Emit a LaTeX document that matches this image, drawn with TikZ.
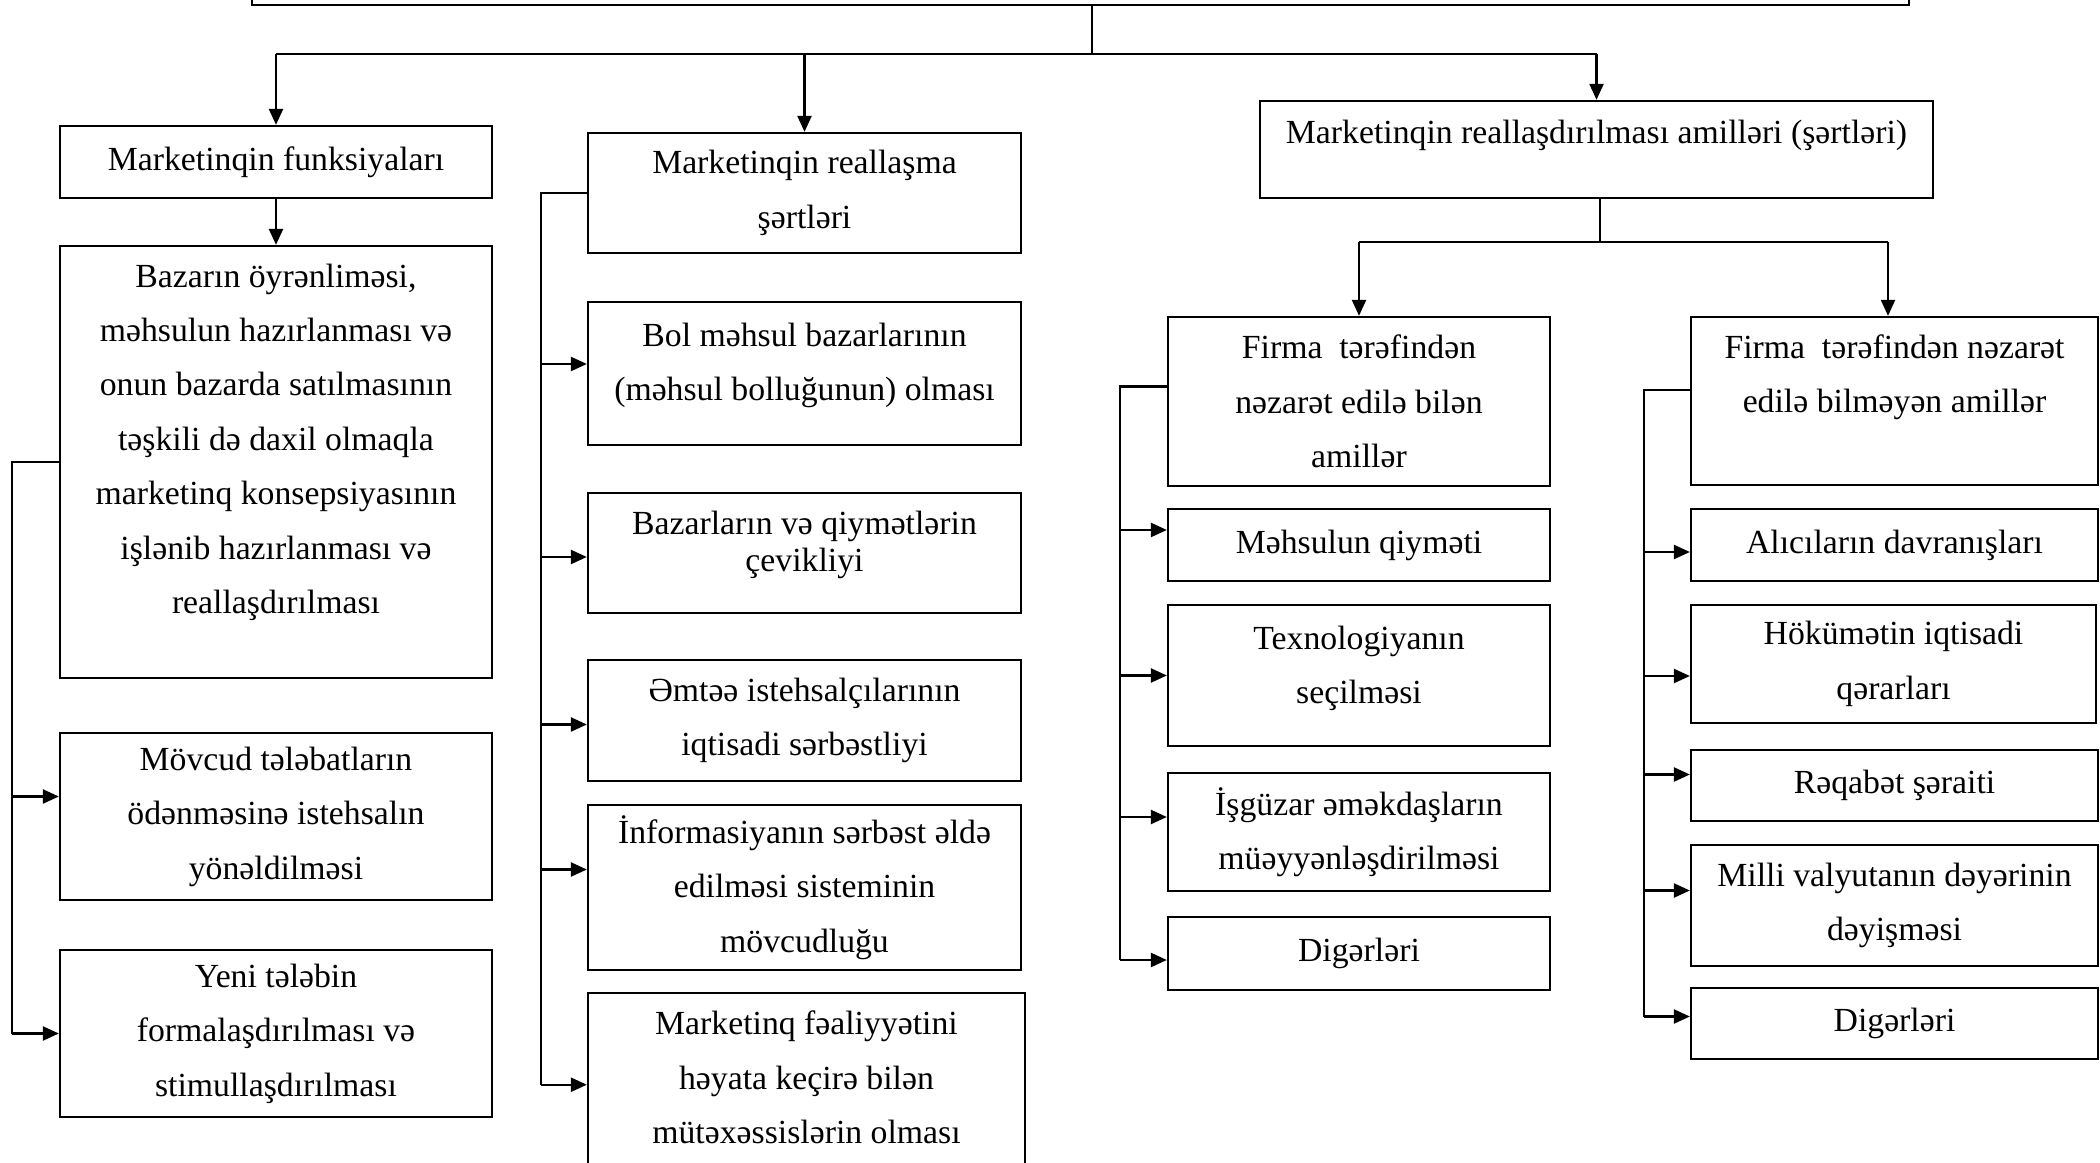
\documentclass[tikz,border=0pt]{standalone}
\usepackage{fontspec}
\setmainfont{Liberation Serif}
\usetikzlibrary{arrows.meta}
\tikzset{
  mkbox/.style={draw=black, line width=0.65pt, align=center, inner sep=0pt,
                font=\fontsize{9.6}{15.5}\selectfont},
  mktight/.style={font=\fontsize{9.6}{10.5}\selectfont},
  mkline/.style={draw=black, line width=0.65pt},
  mkarr/.style={mkline, -{Triangle[length=1.6mm, width=1.4mm]}},
}

\begin{document}
\begin{tikzpicture}[x=0.1mm, y=-0.1mm]
  \useasboundingbox (0,0) rectangle (2100,1163);
  \clip (0,0) rectangle (2100,1163);
  \coordinate (j0) at (1092,54);
  \coordinate (j1) at (1600,242);
  \coordinate (bL) at (12,0);
  \coordinate (bM) at (541,0);
  \coordinate (bR) at (1120,0);
  \coordinate (bF) at (1644,0);

  \node[mkbox, minimum width=165.7mm, minimum height=9mm] (ttl) at (1080.5,-40) {};

  \node[mkbox, minimum width=43.2mm, minimum height=7.2mm] (fnk) at (276,162) {Marketinqin funksiyaları};
  \node[mkbox, minimum width=43.2mm, minimum height=43.2mm] (baz) at (276,462)
    {Bazarın öyrənliməsi,\\ məhsulun hazırlanması və\\ onun bazarda satılmasının\\ təşkili də daxil olmaqla\\
     marketinq konsepsiyasının\\ işlənib hazırlanması və\\ reallaşdırılması\\[-0.8mm] \mbox{}};
  \node[mkbox, minimum width=43.2mm, minimum height=16.7mm] (mov) at (276,816.5)
    {Mövcud tələbatların\\ ödənməsinə istehsalın\\ yönəldilməsi};
  \node[mkbox, minimum width=43.2mm, minimum height=16.7mm] (yen) at (276,1033.5)
    {Yeni tələbin\\ formalaşdırılması və\\ stimullaşdırılması};

  \node[mkbox, minimum width=43.3mm, minimum height=12mm] (rls) at (804.5,193) {Marketinqin reallaşma\\ şərtləri};
  \node[mkbox, minimum width=43.3mm, minimum height=14.3mm] (bol) at (804.5,373.5)
    {Bol məhsul bazarlarının\\ (məhsul bolluğunun) olması\\[-3.1mm] \mbox{}};
  \node[mkbox, mktight, minimum width=43.3mm, minimum height=12mm] (bzq) at (804.5,553)
    {Bazarların və qiymətlərin\\ çevikliyi\\[-1.4mm] \mbox{}};
  \node[mkbox, minimum width=43.3mm, minimum height=12.1mm] (emt) at (804.5,720.5)
    {Əmtəə istehsalçılarının\\ iqtisadi sərbəstliyi};
  \node[mkbox, minimum width=43.3mm, minimum height=16.5mm] (inf) at (804.5,887.5)
    {İnformasiyanın sərbəst əldə\\ edilməsi sisteminin\\ mövcudluğu};
  \node[mkbox, anchor=north, inner ysep=1.8mm, minimum width=43.7mm] (mkf) at (806.5,992)
    {Marketinq fəaliyyətini\\ həyata keçirə bilən\\ mütəxəssislərin olması\\ \mbox{}};

  \node[mkbox, minimum width=67.3mm, minimum height=9.7mm] (aml) at (1596.5,149.5)
    {Marketinqin reallaşdırılması amilləri (şərtləri)\\[-1.9mm] \mbox{}};

  \node[mkbox, minimum width=38.2mm, minimum height=16.9mm] (fc) at (1359,401.5)
    {Firma\ \ tərəfindən\\ nəzarət edilə bilən\\ amillər};
  \node[mkbox, minimum width=38.2mm, minimum height=7.2mm] (mq) at (1359,545) {Məhsulun qiyməti};
  \node[mkbox, minimum width=38.2mm, minimum height=14.1mm] (tx) at (1359,675.5)
    {Texnologiyanın\\ seçilməsi\\[-3.3mm] \mbox{}};
  \node[mkbox, minimum width=38.2mm, minimum height=11.8mm] (isg) at (1359,832)
    {İşgüzar əməkdaşların\\ müəyyənləşdirilməsi};
  \node[mkbox, minimum width=38.2mm, minimum height=7.3mm] (dg1) at (1359,953.5) {Digərləri};

  \node[mkbox, minimum width=40.7mm, minimum height=16.8mm] (fu) at (1894.5,401)
    {Firma\ \ tərəfindən nəzarət\\ edilə bilməyən amillər\\ \mbox{}};
  \node[mkbox, minimum width=40.7mm, minimum height=7.2mm] (al) at (1894.5,545) {Alıcıların davranışları};
  \node[mkbox, minimum width=40.5mm, minimum height=11.8mm] (hk) at (1893.5,664) {Hökümətin iqtisadi\\ qərarları};
  \node[mkbox, minimum width=40.7mm, minimum height=7.1mm] (rq) at (1894.5,785.5) {Rəqabət şəraiti};
  \node[mkbox, minimum width=40.7mm, minimum height=12.1mm] (ml) at (1894.5,905.5)
    {Milli valyutanın dəyərinin\\ dəyişməsi};
  \node[mkbox, minimum width=40.7mm, minimum height=7.1mm] (dg2) at (1894.5,1023.5) {Digərləri};

  \draw[mkline] (j0 |- ttl.south) -- (j0);
  \draw[mkline] (fnk.north |- j0) -- (aml.north |- j0);
  \draw[mkarr] (fnk.north |- j0) -- (fnk.north);
  \draw[mkarr] (rls.north |- j0) -- (rls.north);
  \draw[mkarr] (aml.north |- j0) -- (aml.north);
  \draw[mkarr] (fnk) -- (baz);

  \draw[mkline] (baz.west) -- (baz.west -| bL) -- (yen.west -| bL);
  \draw[mkarr] ([yshift=2mm]mov.west -| bL) -- ([yshift=2mm]mov.west);
  \draw[mkarr] (yen.west -| bL) -- (yen.west);

  \draw[mkline] (rls.west) -- (rls.west -| bM) -- ([yshift=2mm]mkf.west -| bM);
  \draw[mkarr] ([yshift=0.95mm]bol.west -| bM) -- ([yshift=0.95mm]bol.west);
  \draw[mkarr] ([yshift=-0.4mm]bzq.west -| bM) -- ([yshift=-0.4mm]bzq.west);
  \draw[mkarr] ([yshift=-0.4mm]emt.west -| bM) -- ([yshift=-0.4mm]emt.west);
  \draw[mkarr] ([yshift=1.8mm]inf.west -| bM) -- ([yshift=1.8mm]inf.west);
  \draw[mkarr] ([yshift=2mm]mkf.west -| bM) -- ([yshift=2mm]mkf.west);

  \draw[mkline] (j1 |- aml.south) -- (j1);
  \draw[mkline] (fc.north |- j1) -- ([xshift=-0.65mm]fu.north |- j1);
  \draw[mkarr] (fc.north |- j1) -- (fc.north);
  \draw[mkarr] ([xshift=-0.65mm]fu.north |- j1) -- ([xshift=-0.65mm]fu.north);

  \draw[mkline] ([yshift=1.5mm]fc.west) -- ([yshift=1.5mm]fc.west -| bR) -- ([yshift=-0.65mm]dg1.west -| bR);
  \draw[mkarr] ([yshift=1.5mm]mq.west -| bR) -- ([yshift=1.5mm]mq.west);
  \draw[mkarr] (tx.west -| bR) -- (tx.west);
  \draw[mkarr] ([yshift=1.5mm]isg.west -| bR) -- ([yshift=1.5mm]isg.west);
  \draw[mkarr] ([yshift=-0.65mm]dg1.west -| bR) -- ([yshift=-0.65mm]dg1.west);

  \draw[mkline] ([yshift=1.1mm]fu.west) -- ([yshift=1.1mm]fu.west -| bF) -- ([yshift=0.7mm]dg2.west -| bF);
  \draw[mkarr] ([yshift=-0.7mm]al.west -| bF) -- ([yshift=-0.7mm]al.west);
  \draw[mkarr] ([yshift=-1.2mm]hk.west -| bF) -- ([yshift=-1.2mm]hk.west);
  \draw[mkarr] ([yshift=1.1mm]rq.west -| bF) -- ([yshift=1.1mm]rq.west);
  \draw[mkarr] ([yshift=1.5mm]ml.west -| bF) -- ([yshift=1.5mm]ml.west);
  \draw[mkarr] ([yshift=0.7mm]dg2.west -| bF) -- ([yshift=0.7mm]dg2.west);
\end{tikzpicture}
\end{document}
